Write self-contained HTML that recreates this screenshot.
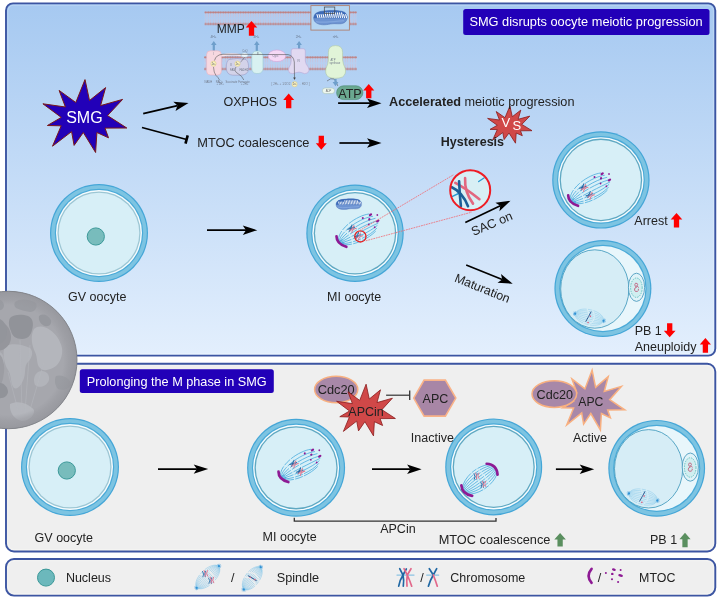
<!DOCTYPE html><html><head><meta charset="utf-8"><style>html,body{margin:0;padding:0;background:#fff;}svg{display:block;will-change:transform;}text{font-family:"Liberation Sans",sans-serif;}</style></head><body>
<svg width="721" height="600" viewBox="0 0 721 600">
<defs>
<linearGradient id="gtop" x1="0" y1="0" x2="0" y2="1">
<stop offset="0" stop-color="#a6c9f1"/><stop offset="1" stop-color="#e3effd"/>
</linearGradient>
<radialGradient id="gmoon" cx="0.45" cy="0.45" r="0.6">
<stop offset="0" stop-color="#b0b0b4"/><stop offset="0.8" stop-color="#a4a4a8"/><stop offset="1" stop-color="#959599"/>
</radialGradient>
<pattern id="memb" x="0" y="0" width="2.5" height="14.2" patternUnits="userSpaceOnUse">
<line x1="1.25" y1="2" x2="1.25" y2="6.3" stroke="#d8b8c8" stroke-width="0.5"/><line x1="1.25" y1="7.9" x2="1.25" y2="12.2" stroke="#d8b8c8" stroke-width="0.5"/>
<circle cx="1.25" cy="1.3" r="1.15" fill="#bf8080"/><circle cx="1.25" cy="12.9" r="1.15" fill="#bf8080"/>
</pattern>
<pattern id="memb2" x="0" y="0" width="2.5" height="14.3" patternUnits="userSpaceOnUse">
<line x1="1.25" y1="2" x2="1.25" y2="6.3" stroke="#d8b8c8" stroke-width="0.5"/><line x1="1.25" y1="8" x2="1.25" y2="12.3" stroke="#d8b8c8" stroke-width="0.5"/>
<circle cx="1.25" cy="1.3" r="1.15" fill="#bf8080"/><circle cx="1.25" cy="13" r="1.15" fill="#bf8080"/>
</pattern>
</defs>
<rect x="6" y="3.4" width="709.3" height="352.2" rx="7" fill="url(#gtop)" stroke="#3c55a2" stroke-width="1.9"/>
<rect x="6" y="363.8" width="709.3" height="187.7" rx="8" fill="#efefef" stroke="#3c55a2" stroke-width="1.9"/>
<rect x="6" y="559" width="709.3" height="36.6" rx="8" fill="#efefef" stroke="#3c55a2" stroke-width="1.9"/>
<rect x="7.9" y="5.3" width="705.5" height="348.4" rx="5.5" fill="none" stroke="#ffffff" stroke-width="0.9" opacity="0.25"/>
<rect x="7.9" y="365.7" width="705.5" height="183.9" rx="6.5" fill="none" stroke="#fafaf6" stroke-width="0.9" opacity="0.6"/>
<rect x="7.9" y="560.9" width="705.5" height="32.8" rx="6.5" fill="none" stroke="#fafaf6" stroke-width="0.9" opacity="0.6"/>
<rect x="463.2" y="9.1" width="246.3" height="26" rx="2.5" fill="#2200b8"/>
<text x="469.4" y="26.0" font-size="12.8" fill="#fff" font-weight="normal" text-anchor="start" >SMG disrupts oocyte meiotic progression</text>
<rect x="79.8" y="369.2" width="194" height="23.8" rx="2.5" fill="#2200b8"/>
<text x="86.8" y="386" font-size="12.7" fill="#fff" font-weight="normal" text-anchor="start" >Prolonging the M phase in SMG</text>
<polygon points="85.0,79.6 89.5,100.5 105.6,87.6 100.6,105.6 122.6,99.4 107.5,115.6 126.8,128.0 105.0,128.1 108.5,137.8 96.9,132.5 95.6,152.5 83.3,132.5 74.1,145.4 71.6,131.6 52.5,146.2 61.2,125.8 47.4,125.5 61.3,117.4 42.9,103.8 65.4,107.0 59.1,90.4 75.8,102.5" fill="#2200b8" stroke="#7a1818" stroke-width="1"/>
<text x="84.4" y="123.3" font-size="16" fill="#fff" font-weight="normal" text-anchor="middle" >SMG</text>
<line x1="143.2" y1="113.7" x2="177.5" y2="105.6" stroke="#000" stroke-width="1.7"/>
<path d="M188.5,103.0 L175.5,110.9 L177.5,105.6 L173.3,101.8 Z" fill="#000"/>
<line x1="142.0" y1="127.5" x2="186.6" y2="139.5" stroke="#000" stroke-width="1.7"/>
<line x1="185.5" y1="143.6" x2="187.7" y2="135.4" stroke="#000" stroke-width="2.6"/>
<text x="197.3" y="146.8" font-size="12.8" fill="#222" font-weight="normal" text-anchor="start" >MTOC coalescence</text>
<path d="M321.3,149.8 L326.8,143.3 L323.95,143.3 L323.95,135.8 L318.65000000000003,135.8 L318.65000000000003,143.3 L315.8,143.3 Z" fill="#ff0000"/>
<line x1="339.4" y1="143.0" x2="370.2" y2="143.0" stroke="#000" stroke-width="1.7"/>
<path d="M381.5,143.0 L367.0,147.7 L370.2,143.0 L367.0,138.3 Z" fill="#000"/>
<text x="223.5" y="105.6" font-size="12.5" fill="#222" font-weight="normal" text-anchor="start" >OXPHOS</text>
<path d="M288.7,93.5 L294.2,100.0 L291.34999999999997,100.0 L291.34999999999997,108.3 L286.05,108.3 L286.05,100.0 L283.2,100.0 Z" fill="#ff0000"/>
<polygon points="509.9,106.0 512.3,116.7 520.8,110.1 518.1,119.3 529.8,116.1 521.8,124.4 532.0,130.7 520.5,130.8 522.3,135.7 516.2,133.0 515.5,143.2 509.0,133.0 504.1,139.6 502.8,132.6 492.7,140.0 497.3,129.6 490.0,129.4 497.3,125.3 487.6,118.4 499.5,120.0 496.2,111.5 505.0,117.7" fill="#d04848" stroke="#8a1a1a" stroke-width="0.8"/>
<text x="501.5" y="126.7" font-size="13" fill="#fff" font-weight="normal" text-anchor="start" >V</text>
<text x="512.5" y="130.4" font-size="13" fill="#fff" font-weight="normal" text-anchor="start" >S</text>
<text x="389" y="105.8" font-size="12.7" fill="#222" font-weight="normal" text-anchor="start" ><tspan font-weight="bold">Accelerated</tspan> meiotic progression</text>
<line x1="338.1" y1="103.2" x2="370.2" y2="103.2" stroke="#000" stroke-width="1.7"/>
<path d="M381.5,103.2 L367.0,107.9 L370.2,103.2 L367.0,98.5 Z" fill="#000"/>
<text x="440.8" y="145.9" font-size="12.5" fill="#222" font-weight="bold" text-anchor="start" >Hysteresis</text>
<circle cx="99" cy="233" r="49.00" fill="#44a6d7"/>
<circle cx="99" cy="233" r="47.80" fill="#7dc4e2"/>
<circle cx="99" cy="233" r="44.20" fill="#4aaad8"/>
<circle cx="99" cy="233" r="43.00" fill="#f6fcfe"/>
<circle cx="99" cy="233" r="41.60" fill="#9cc6d4"/>
<circle cx="99" cy="233" r="40.30" fill="#d7eff7"/>
<circle cx="95.8" cy="236.5" r="8.6" fill="#78bcbc" stroke="#3a9898" stroke-width="1"/>
<text x="68" y="301.3" font-size="12.5" fill="#222" font-weight="normal" text-anchor="start" >GV oocyte</text>
<line x1="207.0" y1="230.2" x2="246.0" y2="230.2" stroke="#000" stroke-width="1.7"/>
<path d="M257.3,230.2 L242.8,234.9 L246.0,230.2 L242.8,225.5 Z" fill="#000"/>
<circle cx="355" cy="233.2" r="48.70" fill="#44a6d7"/>
<circle cx="355" cy="233.2" r="47.50" fill="#7dc4e2"/>
<circle cx="355" cy="233.2" r="43.90" fill="#4aaad8"/>
<circle cx="355" cy="233.2" r="42.70" fill="#f6fcfe"/>
<circle cx="355" cy="233.2" r="41.30" fill="#5fa8c2"/>
<circle cx="355" cy="233.2" r="40.00" fill="#d7eff7"/>
<text x="327.1" y="301.3" font-size="12.5" fill="#222" font-weight="normal" text-anchor="start" >MI oocyte</text>
<g transform="translate(335.5,198.3) scale(0.763,0.739)"><path d="M3,3.6 C7,0.3 27,-0.2 31.5,2.6 C35.2,5.2 35.2,10.6 31.2,13.2 C27.5,15.3 22.5,13.4 17.3,14.4 C12,15.6 6.2,15.6 2.9,13 C-0.2,10.4 0.2,6 3,3.6 Z" fill="#6d93d2" stroke="#4a6fb0" stroke-width="0.5"/><path d="M3,3.6 C7,0.3 27,-0.2 31.5,2.6 C33.6,4.1 34.5,6.5 34.5,8.6 L0.6,8.6 C0.8,6.8 1.6,4.9 3,3.6 Z" fill="#3d6bb8"/><path d="M4.00,5.0 l0.9,3.0 M6.05,5.0 l0.9,3.0 M8.10,5.0 l0.9,3.0 M10.15,5.0 l0.9,3.0 M12.20,3.2 l0.9,4.6 M14.25,3.2 l0.9,4.6 M16.30,3.2 l0.9,4.6 M18.35,3.2 l0.9,4.6 M20.40,3.2 l0.9,4.6 M22.45,3.2 l0.9,4.6 M24.50,3.2 l0.9,4.6 M26.55,3.2 l0.9,4.6 M28.60,3.2 l0.9,4.6 M30.65,5.0 l0.9,3.0 M32.70,5.0 l0.9,3.0" stroke="#ffffff" stroke-width="1.1" fill="none" stroke-linecap="round"/><path d="M3,12 C10,13.6 22,11.8 31,11" stroke="#82a6de" stroke-width="1.2" fill="none"/></g>
<g transform="translate(339.20,243.30) rotate(-32) scale(1.0)">
<path d="M0,0 C2,-12 28,-15 41,-9 M0,0 C4,-9 30,-11 43,-5 M0,0 C6,-6 30,-7 44,-2 M0,0 C8,-3 30,-3 44,1 M0,0 C8,0 30,2 44,3.5 M0,0 C8,3 30,7 42,5 M0,0 C6,6 28,11 40,7 M0,0 C4,8 24,12.5 37.5,9" stroke="#45aadc" stroke-width="0.7" fill="none" stroke-dasharray="13 1.4 8 1.2 40"/>
<path d="M0.5,-1 L5,-1.5 M0.5,1 L5,2" stroke="#38a0dc" stroke-width="1.2" opacity="0.6"/>
<path d="M1.4,-7.3 Q-2.6,-1 4.2,6.7" stroke="#8e1a94" stroke-width="2.7" fill="none" stroke-linecap="round"/>
<ellipse cx="41.7" cy="-7.7" rx="1.8" ry="1.2" fill="#8e1a94"/>
<ellipse cx="47.3" cy="-3.8" rx="0.9" ry="0.9" fill="#8e1a94"/>
<ellipse cx="33.4" cy="-8.9" rx="1.0" ry="1.0" fill="#8e1a94"/>
<ellipse cx="38.3" cy="-4.4" rx="1.2" ry="1.1" fill="#8e1a94"/>
<ellipse cx="44.5" cy="1.5" rx="1.9" ry="1.1" fill="#8e1a94"/>
<ellipse cx="35.1" cy="-0.2" rx="0.9" ry="0.9" fill="#8e1a94"/>
<ellipse cx="38.6" cy="5.2" rx="0.9" ry="0.9" fill="#8e1a94"/>
<g transform="translate(18.30,-5.70) rotate(80) scale(1.1)" fill="none" stroke-linecap="round"><path d="M-2.4,-2.6 Q-0.4,0 -2.0,2.9 M0.6,-2.9 Q-1.2,0 0.2,2.8" stroke="#2a68a2" stroke-width="0.95"/><path d="M-0.8,-3.4 Q1.0,-0.6 0.2,2.4 M2.4,-3.4 Q0.4,-0.6 2.6,2.2" stroke="#e07a92" stroke-width="0.95"/></g>
<g transform="translate(19.80,4.20) rotate(80) scale(1.1)" fill="none" stroke-linecap="round"><path d="M-2.4,-2.6 Q-0.4,0 -2.0,2.9 M0.6,-2.9 Q-1.2,0 0.2,2.8" stroke="#2a68a2" stroke-width="0.95"/><path d="M-0.8,-3.4 Q1.0,-0.6 0.2,2.4 M2.4,-3.4 Q0.4,-0.6 2.6,2.2" stroke="#e07a92" stroke-width="0.95"/></g>
</g>
<circle cx="360.4" cy="236.4" r="5.6" fill="none" stroke="#e82020" stroke-width="1.3"/>
<line x1="359.6" y1="230.6" x2="453.8" y2="174.6" stroke="#f06a72" stroke-width="0.8" stroke-dasharray="1.8 0.8"/>
<line x1="365.8" y1="240.8" x2="471.6" y2="212.2" stroke="#f06a72" stroke-width="0.8" stroke-dasharray="1.8 0.8"/>
<circle cx="600.9" cy="179.9" r="48.70" fill="#44a6d7"/>
<circle cx="600.9" cy="179.9" r="47.50" fill="#7dc4e2"/>
<circle cx="600.9" cy="179.9" r="43.90" fill="#4aaad8"/>
<circle cx="600.9" cy="179.9" r="42.70" fill="#f6fcfe"/>
<circle cx="600.9" cy="179.9" r="41.30" fill="#5fa8c2"/>
<circle cx="600.9" cy="179.9" r="40.00" fill="#d7eff7"/>
<text x="634.3" y="225" font-size="12.5" fill="#222" font-weight="normal" text-anchor="start" >Arrest</text>
<g transform="translate(570.90,202.30) rotate(-32) scale(1.0)">
<path d="M0,0 C2,-12 28,-15 41,-9 M0,0 C4,-9 30,-11 43,-5 M0,0 C6,-6 30,-7 44,-2 M0,0 C8,-3 30,-3 44,1 M0,0 C8,0 30,2 44,3.5 M0,0 C8,3 30,7 42,5 M0,0 C6,6 28,11 40,7 M0,0 C4,8 24,12.5 37.5,9" stroke="#45aadc" stroke-width="0.7" fill="none" stroke-dasharray="13 1.4 8 1.2 40"/>
<path d="M0.5,-1 L5,-1.5 M0.5,1 L5,2" stroke="#38a0dc" stroke-width="1.2" opacity="0.6"/>
<path d="M1.4,-7.3 Q-2.6,-1 4.2,6.7" stroke="#8e1a94" stroke-width="2.7" fill="none" stroke-linecap="round"/>
<ellipse cx="41.7" cy="-7.7" rx="1.8" ry="1.2" fill="#8e1a94"/>
<ellipse cx="47.3" cy="-3.8" rx="0.9" ry="0.9" fill="#8e1a94"/>
<ellipse cx="33.4" cy="-8.9" rx="1.0" ry="1.0" fill="#8e1a94"/>
<ellipse cx="38.3" cy="-4.4" rx="1.2" ry="1.1" fill="#8e1a94"/>
<ellipse cx="44.5" cy="1.5" rx="1.9" ry="1.1" fill="#8e1a94"/>
<ellipse cx="35.1" cy="-0.2" rx="0.9" ry="0.9" fill="#8e1a94"/>
<ellipse cx="38.6" cy="5.2" rx="0.9" ry="0.9" fill="#8e1a94"/>
<g transform="translate(18.30,-5.70) rotate(80) scale(1.1)" fill="none" stroke-linecap="round"><path d="M-2.4,-2.6 Q-0.4,0 -2.0,2.9 M0.6,-2.9 Q-1.2,0 0.2,2.8" stroke="#2a68a2" stroke-width="0.95"/><path d="M-0.8,-3.4 Q1.0,-0.6 0.2,2.4 M2.4,-3.4 Q0.4,-0.6 2.6,2.2" stroke="#e07a92" stroke-width="0.95"/></g>
<g transform="translate(19.80,4.20) rotate(80) scale(1.1)" fill="none" stroke-linecap="round"><path d="M-2.4,-2.6 Q-0.4,0 -2.0,2.9 M0.6,-2.9 Q-1.2,0 0.2,2.8" stroke="#2a68a2" stroke-width="0.95"/><path d="M-0.8,-3.4 Q1.0,-0.6 0.2,2.4 M2.4,-3.4 Q0.4,-0.6 2.6,2.2" stroke="#e07a92" stroke-width="0.95"/></g>
</g>
<path d="M676.5,213.1 L682.3000000000001,219.6 L679.1500000000001,219.6 L679.1500000000001,227.4 L673.85,227.4 L673.85,219.6 L670.7,219.6 Z" fill="#ff0000"/>
<circle cx="602.9" cy="288.5" r="48.50" fill="#44a6d7"/>
<circle cx="602.9" cy="288.5" r="47.30" fill="#7dc4e2"/>
<circle cx="602.9" cy="288.5" r="43.70" fill="#4aaad8"/>
<circle cx="602.9" cy="288.5" r="42.50" fill="#e8f6fb"/>
<ellipse cx="594.8" cy="289.0" rx="34.1" ry="39.2" fill="#d6edf6" stroke="#4a9ec0" stroke-width="0.9"/>
<ellipse cx="636.5" cy="287.3" rx="8.1" ry="14.1" fill="#e0f3f8" stroke="#4f9dbf" stroke-width="0.9"/>
<ellipse cx="636.4" cy="287.7" rx="5.8" ry="9.7" fill="#d0eef0" stroke="#50b8b8" stroke-width="0.8" stroke-dasharray="1.5 1"/>
<path d="M637.1999999999999,283.5 q-2.2,-1.2 -2.4,1.2 q-0.1,2 2,2.3 q-2.6,0.6 -2.3,3 q0.4,2.1 2.8,1.4 q1.8,-0.8 1,-2.6 M637.1999999999999,283.5 q1.2,1.2 -0.5,2.6 q1.6,0.2 1.9,1.6" fill="none" stroke="#c0607e" stroke-width="0.9"/>
<g transform="translate(575.30,313.70) rotate(14) scale(1.0)">
<path d="M0,-0.00 C0.9,-10.00 28.1,-10.00 29,-0.00 M0,-0.00 C0.9,-7.50 28.1,-7.50 29,-0.00 M0,-0.00 C0.9,-5.00 28.1,-5.00 29,-0.00 M0,-0.00 C0.9,-2.50 28.1,-2.50 29,-0.00 M0,0.00 C0.9,0.00 28.1,0.00 29,0.00 M0,0.00 C0.9,2.50 28.1,2.50 29,0.00 M0,0.00 C0.9,5.00 28.1,5.00 29,0.00 M0,0.00 C0.9,7.50 28.1,7.50 29,0.00 M0,0.00 C0.9,10.00 28.1,10.00 29,0.00" stroke="#8ccbea" stroke-width="0.5" fill="none" stroke-dasharray="13.1 1.3 4.3 1.3 29.0" opacity="1.0"/>
<path d="M0,0 l-0.62,-2.32 M0,0 l-1.84,-1.54 M0,0 l-2.40,0.00 M0,0 l-1.84,1.54 M0,0 l-0.62,2.32" stroke="#3a98d8" stroke-width="0.55" fill="none"/>
<circle cx="0" cy="0" r="1.0" fill="#2f90d4"/>
<path d="M29,0 l0.62,-2.32 M29,0 l1.84,-1.54 M29,0 l2.40,0.00 M29,0 l1.84,1.54 M29,0 l0.62,2.32" stroke="#3a98d8" stroke-width="0.55" fill="none"/>
<circle cx="29" cy="0" r="1.0" fill="#2f90d4"/>
<path d="M14.9,-5.9 L13.6,-0.5 L12,5.3" stroke="#2a5a90" stroke-width="0.9" fill="none"/><circle cx="15.2" cy="-1.2" r="0.8" fill="#e0607e"/><circle cx="14.5" cy="5.5" r="0.8" fill="#e0607e"/>
</g>
<text x="634.7" y="334.5" font-size="12.5" fill="#222" font-weight="normal" text-anchor="start" >PB 1</text>
<path d="M669.6999999999999,337.3 L675.5999999999999,330.8 L672.3499999999999,330.8 L672.3499999999999,323.3 L667.05,323.3 L667.05,330.8 L663.8,330.8 Z" fill="#ff0000"/>
<text x="634.7" y="350.6" font-size="12.5" fill="#222" font-weight="normal" text-anchor="start" >Aneuploidy</text>
<path d="M705.4,338 L711.0,344.5 L708.05,344.5 L708.05,352.7 L702.75,352.7 L702.75,344.5 L699.8,344.5 Z" fill="#ff0000"/>
<line x1="465.3" y1="222.4" x2="500.3" y2="205.7" stroke="#000" stroke-width="1.7"/>
<path d="M510.5,200.8 L499.4,211.3 L500.3,205.7 L495.4,202.8 Z" fill="#000"/>
<text x="473.6" y="236" font-size="12.6" fill="#222" font-weight="normal" text-anchor="start" transform="rotate(-23 473.6 236)">SAC on</text>
<line x1="466.2" y1="265.0" x2="502.2" y2="279.5" stroke="#000" stroke-width="1.7"/>
<path d="M512.7,283.7 L497.5,282.7 L502.2,279.5 L501.0,273.9 Z" fill="#000"/>
<text x="453.7" y="281.2" font-size="12.4" fill="#222" font-weight="normal" text-anchor="start" transform="rotate(22 453.7 281.2)">Maturation</text>
<circle cx="470.2" cy="190.2" r="20" fill="#d8eff5"/>
<g stroke-linecap="round" fill="none"><path d="M484,178 L478.7,181.5 M452.5,196.4 L458.5,193.5" stroke="#2a9ad2" stroke-width="1.4"/><path d="M465.1,178 Q464.3,192 473,203.6" stroke="#e2677f" stroke-width="2.6"/><path d="M455.3,182.8 Q467,189 479.4,199.2" stroke="#e2677f" stroke-width="2.6"/><path d="M459.1,181.2 Q459.6,194 460.9,206.2" stroke="#1c5f96" stroke-width="2.6"/><path d="M451.8,187.2 Q462.5,192 468,206.2" stroke="#1c5f96" stroke-width="2.6"/></g>
<circle cx="470.2" cy="190.2" r="20" fill="none" stroke="#ee1c24" stroke-width="2"/>
<circle cx="70" cy="467" r="49.00" fill="#44a6d7"/>
<circle cx="70" cy="467" r="47.80" fill="#7dc4e2"/>
<circle cx="70" cy="467" r="44.20" fill="#4aaad8"/>
<circle cx="70" cy="467" r="43.00" fill="#f6fcfe"/>
<circle cx="70" cy="467" r="41.60" fill="#9cc6d4"/>
<circle cx="70" cy="467" r="40.30" fill="#d7eff7"/>
<circle cx="66.8" cy="470.5" r="8.6" fill="#78bcbc" stroke="#3a9898" stroke-width="1"/>
<text x="34.6" y="542.1" font-size="12.5" fill="#222" font-weight="normal" text-anchor="start" >GV oocyte</text>
<line x1="158.0" y1="469.1" x2="196.9" y2="469.1" stroke="#000" stroke-width="1.7"/>
<path d="M208.2,469.1 L193.7,473.8 L196.9,469.1 L193.7,464.4 Z" fill="#000"/>
<circle cx="296.1" cy="467.8" r="49.00" fill="#44a6d7"/>
<circle cx="296.1" cy="467.8" r="47.80" fill="#7dc4e2"/>
<circle cx="296.1" cy="467.8" r="44.20" fill="#4aaad8"/>
<circle cx="296.1" cy="467.8" r="43.00" fill="#f6fcfe"/>
<circle cx="296.1" cy="467.8" r="41.60" fill="#5fa8c2"/>
<circle cx="296.1" cy="467.8" r="40.30" fill="#d7eff7"/>
<text x="262.6" y="541.3" font-size="12.5" fill="#222" font-weight="normal" text-anchor="start" >MI oocyte</text>
<g transform="translate(281.20,478.60) rotate(-32) scale(1.0)">
<path d="M0,0 C2,-12 28,-15 41,-9 M0,0 C4,-9 30,-11 43,-5 M0,0 C6,-6 30,-7 44,-2 M0,0 C8,-3 30,-3 44,1 M0,0 C8,0 30,2 44,3.5 M0,0 C8,3 30,7 42,5 M0,0 C6,6 28,11 40,7 M0,0 C4,8 24,12.5 37.5,9" stroke="#45aadc" stroke-width="0.7" fill="none" stroke-dasharray="13 1.4 8 1.2 40"/>
<path d="M0.5,-1 L5,-1.5 M0.5,1 L5,2" stroke="#38a0dc" stroke-width="1.2" opacity="0.6"/>
<path d="M1.4,-7.3 Q-2.6,-1 4.2,6.7" stroke="#8e1a94" stroke-width="2.7" fill="none" stroke-linecap="round"/>
<ellipse cx="41.7" cy="-7.7" rx="1.8" ry="1.2" fill="#8e1a94"/>
<ellipse cx="47.3" cy="-3.8" rx="0.9" ry="0.9" fill="#8e1a94"/>
<ellipse cx="33.4" cy="-8.9" rx="1.0" ry="1.0" fill="#8e1a94"/>
<ellipse cx="38.3" cy="-4.4" rx="1.2" ry="1.1" fill="#8e1a94"/>
<ellipse cx="44.5" cy="1.5" rx="1.9" ry="1.1" fill="#8e1a94"/>
<ellipse cx="35.1" cy="-0.2" rx="0.9" ry="0.9" fill="#8e1a94"/>
<ellipse cx="38.6" cy="5.2" rx="0.9" ry="0.9" fill="#8e1a94"/>
<g transform="translate(18.30,-5.70) rotate(80) scale(1.1)" fill="none" stroke-linecap="round"><path d="M-2.4,-2.6 Q-0.4,0 -2.0,2.9 M0.6,-2.9 Q-1.2,0 0.2,2.8" stroke="#2a68a2" stroke-width="0.95"/><path d="M-0.8,-3.4 Q1.0,-0.6 0.2,2.4 M2.4,-3.4 Q0.4,-0.6 2.6,2.2" stroke="#e07a92" stroke-width="0.95"/></g>
<g transform="translate(19.80,4.20) rotate(80) scale(1.1)" fill="none" stroke-linecap="round"><path d="M-2.4,-2.6 Q-0.4,0 -2.0,2.9 M0.6,-2.9 Q-1.2,0 0.2,2.8" stroke="#2a68a2" stroke-width="0.95"/><path d="M-0.8,-3.4 Q1.0,-0.6 0.2,2.4 M2.4,-3.4 Q0.4,-0.6 2.6,2.2" stroke="#e07a92" stroke-width="0.95"/></g>
</g>
<line x1="372.0" y1="469.2" x2="410.3" y2="469.2" stroke="#000" stroke-width="1.7"/>
<path d="M421.6,469.2 L407.1,473.9 L410.3,469.2 L407.1,464.5 Z" fill="#000"/>
<circle cx="493.7" cy="466.9" r="48.50" fill="#44a6d7"/>
<circle cx="493.7" cy="466.9" r="47.30" fill="#7dc4e2"/>
<circle cx="493.7" cy="466.9" r="43.70" fill="#4aaad8"/>
<circle cx="493.7" cy="466.9" r="42.50" fill="#f6fcfe"/>
<circle cx="493.7" cy="466.9" r="41.10" fill="#5fa8c2"/>
<circle cx="493.7" cy="466.9" r="39.80" fill="#d7eff7"/>
<line x1="555.9" y1="469.2" x2="582.9" y2="469.2" stroke="#000" stroke-width="1.7"/>
<path d="M594.2,469.2 L579.7,473.9 L582.9,469.2 L579.7,464.5 Z" fill="#000"/>
<g transform="translate(464.50,491.00) rotate(-37) scale(1.0)">
<path d="M0,-3.75 C9.6,-12.50 28.7,-12.50 38.2,-4.50 M0,-2.81 C9.6,-9.38 28.7,-9.38 38.2,-3.38 M0,-1.88 C9.6,-6.25 28.7,-6.25 38.2,-2.25 M0,-0.94 C9.6,-3.12 28.7,-3.12 38.2,-1.12 M0,0.00 C9.6,0.00 28.7,0.00 38.2,0.00 M0,0.94 C9.6,3.12 28.7,3.12 38.2,1.12 M0,1.88 C9.6,6.25 28.7,6.25 38.2,2.25 M0,2.81 C9.6,9.38 28.7,9.38 38.2,3.38 M0,3.75 C9.6,12.50 28.7,12.50 38.2,4.50" stroke="#45aadc" stroke-width="0.7" fill="none" stroke-dasharray="17.2 1.3 5.7 1.3 38.2" opacity="1.0"/>
<path d="M0.9,-6.4 Q-3.8,1 3.2,8.5" stroke="#8e1a94" stroke-width="2.7" fill="none" stroke-linecap="round"/>
<path d="M34.1,-8.4 Q41.800000000000004,-2 36.2,6.9" stroke="#8e1a94" stroke-width="2.7" fill="none" stroke-linecap="round"/>
<g transform="translate(18.30,-4.50) rotate(37) scale(1.0)" fill="none" stroke-linecap="round"><path d="M-2.4,-2.6 Q-0.4,0 -2.0,2.9 M0.6,-2.9 Q-1.2,0 0.2,2.8" stroke="#2a68a2" stroke-width="0.95"/><path d="M-0.8,-3.4 Q1.0,-0.6 0.2,2.4 M2.4,-3.4 Q0.4,-0.6 2.6,2.2" stroke="#e07a92" stroke-width="0.95"/></g><g transform="translate(18.80,6.10) rotate(37) scale(1.0)" fill="none" stroke-linecap="round"><path d="M-2.4,-2.6 Q-0.4,0 -2.0,2.9 M0.6,-2.9 Q-1.2,0 0.2,2.8" stroke="#2a68a2" stroke-width="0.95"/><path d="M-0.8,-3.4 Q1.0,-0.6 0.2,2.4 M2.4,-3.4 Q0.4,-0.6 2.6,2.2" stroke="#e07a92" stroke-width="0.95"/></g>
</g>
<circle cx="656.7" cy="468.3" r="48.40" fill="#44a6d7"/>
<circle cx="656.7" cy="468.3" r="47.20" fill="#7dc4e2"/>
<circle cx="656.7" cy="468.3" r="43.60" fill="#4aaad8"/>
<circle cx="656.7" cy="468.3" r="42.40" fill="#e8f6fb"/>
<ellipse cx="648.6" cy="468.8" rx="34.1" ry="39.2" fill="#d6edf6" stroke="#4a9ec0" stroke-width="0.9"/>
<ellipse cx="690.3000000000001" cy="467.1" rx="8.1" ry="14.1" fill="#e0f3f8" stroke="#4f9dbf" stroke-width="0.9"/>
<ellipse cx="690.2" cy="467.5" rx="5.8" ry="9.7" fill="#d0eef0" stroke="#50b8b8" stroke-width="0.8" stroke-dasharray="1.5 1"/>
<path d="M691.0,463.3 q-2.2,-1.2 -2.4,1.2 q-0.1,2 2,2.3 q-2.6,0.6 -2.3,3 q0.4,2.1 2.8,1.4 q1.8,-0.8 1,-2.6 M691.0,463.3 q1.2,1.2 -0.5,2.6 q1.6,0.2 1.9,1.6" fill="none" stroke="#c0607e" stroke-width="0.9"/>
<g transform="translate(629.10,493.50) rotate(14) scale(1.0)">
<path d="M0,-0.00 C0.9,-10.00 28.1,-10.00 29,-0.00 M0,-0.00 C0.9,-7.50 28.1,-7.50 29,-0.00 M0,-0.00 C0.9,-5.00 28.1,-5.00 29,-0.00 M0,-0.00 C0.9,-2.50 28.1,-2.50 29,-0.00 M0,0.00 C0.9,0.00 28.1,0.00 29,0.00 M0,0.00 C0.9,2.50 28.1,2.50 29,0.00 M0,0.00 C0.9,5.00 28.1,5.00 29,0.00 M0,0.00 C0.9,7.50 28.1,7.50 29,0.00 M0,0.00 C0.9,10.00 28.1,10.00 29,0.00" stroke="#8ccbea" stroke-width="0.5" fill="none" stroke-dasharray="13.1 1.3 4.3 1.3 29.0" opacity="1.0"/>
<path d="M0,0 l-0.62,-2.32 M0,0 l-1.84,-1.54 M0,0 l-2.40,0.00 M0,0 l-1.84,1.54 M0,0 l-0.62,2.32" stroke="#3a98d8" stroke-width="0.55" fill="none"/>
<circle cx="0" cy="0" r="1.0" fill="#2f90d4"/>
<path d="M29,0 l0.62,-2.32 M29,0 l1.84,-1.54 M29,0 l2.40,0.00 M29,0 l1.84,1.54 M29,0 l0.62,2.32" stroke="#3a98d8" stroke-width="0.55" fill="none"/>
<circle cx="29" cy="0" r="1.0" fill="#2f90d4"/>
<path d="M14.9,-5.9 L13.6,-0.5 L12,5.3" stroke="#2a5a90" stroke-width="0.9" fill="none"/><circle cx="15.2" cy="-1.2" r="0.8" fill="#e0607e"/><circle cx="14.5" cy="5.5" r="0.8" fill="#e0607e"/>
</g>
<text x="438.7" y="544.4" font-size="12.75" fill="#222" font-weight="normal" text-anchor="start" >MTOC coalescence</text>
<path d="M560.0999999999999,532.9 L565.9,539.4 L562.75,539.4 L562.75,546.5 L557.4499999999999,546.5 L557.4499999999999,539.4 L554.3,539.4 Z" fill="#5a8f5f"/>
<text x="650" y="544.4" font-size="12.5" fill="#222" font-weight="normal" text-anchor="start" >PB 1</text>
<path d="M685.0,532.7 L690.6,539.2 L687.65,539.2 L687.65,547.3000000000001 L682.35,547.3000000000001 L682.35,539.2 L679.4,539.2 Z" fill="#5a8f5f"/>
<path d="M294.3,517.8 L294.3,521.2 L496,521.2 L496,518" fill="none" stroke="#333" stroke-width="1.3"/>
<text x="380.2" y="533" font-size="12.5" fill="#222" font-weight="normal" text-anchor="start" >APCin</text>
<ellipse cx="336.2" cy="389.5" rx="21.6" ry="13.2" fill="#a888a8" stroke="#f8b080" stroke-width="1.5"/>
<text x="317.7" y="393.8" font-size="12.8" fill="#222" font-weight="normal" text-anchor="start" >Cdc20</text>
<polygon points="366.1,384.2 369.3,399.0 380.5,389.8 377.0,402.6 392.4,398.2 381.9,409.7 395.4,418.5 380.1,418.6 382.6,425.5 374.4,421.7 373.5,435.9 364.9,421.7 358.5,430.9 356.7,421.1 343.4,431.4 349.4,417.0 339.8,416.7 349.5,411.0 336.6,401.3 352.4,403.6 348.0,391.8 359.7,400.4" fill="#d04848" stroke="#8a1a1a" stroke-width="0.8"/>
<text x="348.3" y="416.4" font-size="12.5" fill="#222" font-weight="normal" text-anchor="start" >APCin</text>
<line x1="386.1" y1="395.2" x2="409.7" y2="395.2" stroke="#333" stroke-width="1.2"/>
<line x1="409.7" y1="399.9" x2="409.7" y2="390.5" stroke="#333" stroke-width="1.3"/>
<polygon points="413.7,398.1 424.1,380.1 445.4,380.1 455.8,398.1 445.4,416.1 424.1,416.1" fill="#a886a6" stroke="#f9b288" stroke-width="1.6"/>
<text x="422.6" y="403.2" font-size="12.5" fill="#222" font-weight="normal" text-anchor="start" >APC</text>
<text x="410.8" y="441.7" font-size="12.5" fill="#222" font-weight="normal" text-anchor="start" >Inactive</text>
<polygon points="592.1,370.2 595.6,387.3 608.2,376.7 604.3,391.5 621.4,386.4 609.7,399.7 624.7,409.8 607.7,409.9 610.4,417.9 601.4,413.5 600.4,429.9 590.8,413.5 583.6,424.1 581.7,412.8 566.8,424.8 573.6,408.0 562.8,407.8 573.6,401.1 559.3,390.0 576.8,392.6 571.9,379.0 584.9,388.9" fill="#a888a8" stroke="#f8b080" stroke-width="1.5"/>
<ellipse cx="554.3" cy="394.1" rx="22.3" ry="13.3" fill="#a888a8" stroke="#f8b080" stroke-width="1.5"/>
<text x="536.6" y="398.8" font-size="12.6" fill="#222" font-weight="normal" text-anchor="start" >Cdc20</text>
<text x="578.3" y="405.8" font-size="12.2" fill="#222" font-weight="normal" text-anchor="start" >APC</text>
<text x="573" y="442" font-size="12.5" fill="#222" font-weight="normal" text-anchor="start" >Active</text>
<circle cx="46" cy="577.6" r="8.5" fill="#6cb8bc" stroke="#3a9898" stroke-width="1"/>
<text x="65.9" y="581.8" font-size="12.5" fill="#222" font-weight="normal" text-anchor="start" >Nucleus</text>
<g transform="translate(196.70,587.80) rotate(-44.3) scale(1.0)">
<path d="M0,-0.00 C2.5,-10.00 28.5,-10.00 31,-0.00 M0,-0.00 C2.5,-8.00 28.5,-8.00 31,-0.00 M0,-0.00 C2.5,-6.00 28.5,-6.00 31,-0.00 M0,-0.00 C2.5,-4.00 28.5,-4.00 31,-0.00 M0,-0.00 C2.5,-2.00 28.5,-2.00 31,-0.00 M0,0.00 C2.5,0.00 28.5,0.00 31,0.00 M0,0.00 C2.5,2.00 28.5,2.00 31,0.00 M0,0.00 C2.5,4.00 28.5,4.00 31,0.00 M0,0.00 C2.5,6.00 28.5,6.00 31,0.00 M0,0.00 C2.5,8.00 28.5,8.00 31,0.00 M0,0.00 C2.5,10.00 28.5,10.00 31,0.00" stroke="#7cc2e8" stroke-width="0.5" fill="none" stroke-dasharray="14.0 1.3 4.6 1.3 31.0" opacity="1.0"/>
<path d="M0,0 l-0.62,-2.32 M0,0 l-1.84,-1.54 M0,0 l-2.40,0.00 M0,0 l-1.84,1.54 M0,0 l-0.62,2.32" stroke="#3a98d8" stroke-width="0.55" fill="none"/>
<circle cx="0" cy="0" r="1.0" fill="#2f90d4"/>
<path d="M31,0 l0.62,-2.32 M31,0 l1.84,-1.54 M31,0 l2.40,0.00 M31,0 l1.84,1.54 M31,0 l0.62,2.32" stroke="#3a98d8" stroke-width="0.55" fill="none"/>
<circle cx="31" cy="0" r="1.0" fill="#2f90d4"/>
<g transform="translate(15.60,-4.10) rotate(44.3) scale(1.0)" fill="none" stroke-linecap="round"><path d="M-2.4,-2.6 Q-0.4,0 -2.0,2.9 M0.6,-2.9 Q-1.2,0 0.2,2.8" stroke="#3a7ab0" stroke-width="0.95"/><path d="M-0.8,-3.4 Q1.0,-0.6 0.2,2.4 M2.4,-3.4 Q0.4,-0.6 2.6,2.2" stroke="#e0708e" stroke-width="0.95"/></g><g transform="translate(15.30,4.90) rotate(44.3) scale(1.0)" fill="none" stroke-linecap="round"><path d="M-2.4,-2.6 Q-0.4,0 -2.0,2.9 M0.6,-2.9 Q-1.2,0 0.2,2.8" stroke="#3a7ab0" stroke-width="0.95"/><path d="M-0.8,-3.4 Q1.0,-0.6 0.2,2.4 M2.4,-3.4 Q0.4,-0.6 2.6,2.2" stroke="#e0708e" stroke-width="0.95"/></g>
</g>
<g transform="translate(243.90,589.40) rotate(-53) scale(1.0)">
<path d="M0,-0.00 C2.2,-9.50 25.6,-9.50 27.8,-0.00 M0,-0.00 C2.2,-7.60 25.6,-7.60 27.8,-0.00 M0,-0.00 C2.2,-5.70 25.6,-5.70 27.8,-0.00 M0,-0.00 C2.2,-3.80 25.6,-3.80 27.8,-0.00 M0,-0.00 C2.2,-1.90 25.6,-1.90 27.8,-0.00 M0,0.00 C2.2,0.00 25.6,0.00 27.8,0.00 M0,0.00 C2.2,1.90 25.6,1.90 27.8,0.00 M0,0.00 C2.2,3.80 25.6,3.80 27.8,0.00 M0,0.00 C2.2,5.70 25.6,5.70 27.8,0.00 M0,0.00 C2.2,7.60 25.6,7.60 27.8,0.00 M0,0.00 C2.2,9.50 25.6,9.50 27.8,0.00" stroke="#7cc2e8" stroke-width="0.5" fill="none" stroke-dasharray="12.5 1.3 4.2 1.3 27.8" opacity="1.0"/>
<path d="M0,0 l-0.62,-2.32 M0,0 l-1.84,-1.54 M0,0 l-2.40,0.00 M0,0 l-1.84,1.54 M0,0 l-0.62,2.32" stroke="#3a98d8" stroke-width="0.55" fill="none"/>
<circle cx="0" cy="0" r="1.0" fill="#2f90d4"/>
<path d="M27.8,0 l0.62,-2.32 M27.8,0 l1.84,-1.54 M27.8,0 l2.40,0.00 M27.8,0 l1.84,1.54 M27.8,0 l0.62,2.32" stroke="#3a98d8" stroke-width="0.55" fill="none"/>
<circle cx="27.8" cy="0" r="1.0" fill="#2f90d4"/>
<path d="M13.5,-5 L14.5,5" stroke="#2a5a90" stroke-width="1" fill="none"/><circle cx="13.4" cy="-2.2" r="0.8" fill="#e0708e"/><circle cx="14.6" cy="3" r="0.8" fill="#e0708e"/>
</g>
<g stroke-linecap="round" fill="none" stroke-width="1.7"><path d="M397,575.1 H414 M426.7,575.1 H438.7" stroke="#8cc4e4" stroke-width="1.3"/><path d="M399.7,568.7 L403,575 Q404.2,580.5 403.3,586.2 M406.3,569 L403,575 Q399.8,580 398.7,586.2" stroke="#2068a4"/><path d="M404,568.7 L407.3,575 Q409.8,580.5 411.7,586.2 M411,568.7 L407.3,575 Q406.4,580.5 407,586.2" stroke="#e2688a"/><path d="M429.3,568.7 L433.3,575 M436.7,568.7 L433.3,575 Q430,580.5 428.4,586.2" stroke="#2068a4"/><path d="M433.3,575 Q435.5,580.5 437.3,586.2" stroke="#e2688a"/></g>
<path d="M591.6,568.8 Q585.6,575.8 591.6,582.8" stroke="#8e1a94" stroke-width="2.6" fill="none" stroke-linecap="round"/>
<ellipse cx="605.9" cy="573" rx="1.0" ry="1.0" transform="rotate(0 605.9 573)" fill="#8e1a94"/>
<ellipse cx="613.9" cy="569.6" rx="2.0" ry="1.3" transform="rotate(20 613.9 569.6)" fill="#8e1a94"/>
<ellipse cx="620.6" cy="569.9" rx="1.0" ry="1.0" transform="rotate(0 620.6 569.9)" fill="#8e1a94"/>
<ellipse cx="612.3" cy="573.9" rx="1.3" ry="1.2" transform="rotate(0 612.3 573.9)" fill="#8e1a94"/>
<ellipse cx="620.6" cy="575.5" rx="2.4" ry="1.3" transform="rotate(12 620.6 575.5)" fill="#8e1a94"/>
<ellipse cx="612" cy="579.2" rx="1.05" ry="1.0" transform="rotate(0 612 579.2)" fill="#8e1a94"/>
<ellipse cx="618.1" cy="581.9" rx="1.05" ry="1.0" transform="rotate(0 618.1 581.9)" fill="#8e1a94"/>
<text x="231" y="581.8" font-size="12.5" fill="#222" font-weight="normal" text-anchor="start" >/</text>
<text x="276.7" y="581.8" font-size="12.7" fill="#222" font-weight="normal" text-anchor="start" >Spindle</text>
<text x="420.2" y="581.8" font-size="12.5" fill="#222" font-weight="normal" text-anchor="start" >/</text>
<text x="450.3" y="581.8" font-size="12.5" fill="#222" font-weight="normal" text-anchor="start" >Chromosome</text>
<text x="597.8" y="581.6" font-size="12.5" fill="#222" font-weight="normal" text-anchor="start" >/</text>
<text x="639.1" y="581.6" font-size="12.4" fill="#222" font-weight="normal" text-anchor="start" >MTOC</text>
<defs><clipPath id="mc"><circle cx="8.3" cy="360" r="68.5"/></clipPath><radialGradient id="rim" cx="8.3" cy="360" r="68.7" gradientUnits="userSpaceOnUse"><stop offset="0.8" stop-color="#97989e" stop-opacity="0"/><stop offset="0.88" stop-color="#97989e" stop-opacity="0.5"/><stop offset="1" stop-color="#93949a" stop-opacity="0.8"/></radialGradient></defs>
<circle cx="8.3" cy="360" r="68.7" fill="#a6a7ad"/>
<g clip-path="url(#mc)"><path d="M5,346 C12,343 22,344 30,348 C34,352 32,358 28,362 C24,366 26,372 24,378 C22,384 18,390 14,388 C10,384 12,376 8,370 C4,364 2,352 5,346 Z" fill="#b2b4ba"/><path d="M34,329 C38,325 45,326 50,330 C56,334 60,340 62,348 C63,356 60,362 56,366 C50,370 44,372 40,368 C36,364 38,358 35,352 C32,346 30,336 34,329 Z" fill="#b4b6bc"/><path d="M38,372 C44,369 50,373 49,380 C47,386 40,389 35,385 C33,380 34,375 38,372 Z" fill="#b2b4ba"/><path d="M10,404 C18,400 28,403 34,410 C35,416 28,421 22,421 C15,420 9,413 10,404 Z" fill="#b4b6bc"/><path d="M-4,352 C0,350 4,354 4,360 C4,368 2,374 -4,374 Z" fill="#afb1b7"/><path d="M-4,322 C4,320 11,328 11,337 C11,346 4,351 -4,351 Z" fill="#95969c"/><path d="M-4,352 C2,354 5,362 4,372 C3,380 2,386 -4,388 Z" fill="#9c9da3"/><path d="M10,318 C14,314 22,314 28,316 C33,318 34,324 32,330 C31,335 28,339 22,339 C16,339 12,336 11,331 C9,327 8,322 10,318 Z" fill="#919399"/><path d="M15,302 C20,298 30,299 36,303 C38,307 35,312 30,312 C25,311 20,310 16,308 C14,306 14,304 15,302 Z" fill="#9a9ca2"/><path d="M-4,318 C2,318 7,324 7,332 C7,338 4,344 -4,344 Z" fill="#93959b"/><path d="M39,316 C43,313 48,315 51,320 C52,324 49,327 45,326 C41,325 38,320 39,316 Z" fill="#96989e"/><path d="M-4,383 C2,381 8,386 8,392 C7,397 3,399 -4,398 Z" fill="#919399"/><path d="M56,376 C62,374 70,378 71,384 C70,389 63,391 58,389 C55,386 54,380 56,376 Z" fill="#9b9da3"/><path d="M-4,300 C1,298 4,302 4,306 C3,310 0,311 -4,310 Z" fill="#9a9ca2"/><path d="M20,340 L22,412 M30,345 L25,412 M44,362 L30,410 M8,372 L18,410" stroke="#b7b9bf" stroke-width="0.5" fill="none"/></g>
<circle cx="8.3" cy="360" r="68.7" fill="url(#rim)"/>
<circle cx="8.3" cy="360" r="68.7" fill="none" stroke="#7e8086" stroke-width="0.9"/>
<g transform="translate(204.5,11.1)"><rect x="0" y="1.3" width="152.3" height="11.6" fill="#ecd8e4" opacity="0.12"/><rect x="0" y="0" width="152.3" height="14.2" fill="url(#memb)"/></g>
<g transform="translate(204,56.0)"><rect x="0" y="1.3" width="153" height="11.7" fill="#ecd8e4" opacity="0.12"/><rect x="0" y="0" width="153" height="14.3" fill="url(#memb2)"/></g>
<path d="M212.70000000000002,51 V45 H211.0 L213.8,41 L216.60000000000002,45 H214.9 V51 Z" fill="#6f9fcb"/>
<path d="M255.70000000000002,51.5 V45 H254.0 L256.8,41 L259.6,45 H257.90000000000003 V51.5 Z" fill="#6f9fcb"/>
<path d="M298.0,49 V45 H296.3 L299.1,41 L301.90000000000003,45 H300.20000000000005 V49 Z" fill="#6f9fcb"/>
<text x="213.5" y="37.5" font-size="3.2" fill="#6a7a90" text-anchor="middle">4H+</text>
<text x="256.5" y="37.5" font-size="3.2" fill="#6a7a90" text-anchor="middle">4H+</text>
<text x="298.7" y="37.5" font-size="3.2" fill="#6a7a90" text-anchor="middle">2H+</text>
<text x="335.6" y="37.5" font-size="3.2" fill="#6a7a90" text-anchor="middle">nH+</text>
<rect x="206.6" y="50.8" width="14.8" height="24.2" rx="3.8" fill="#f7d8e0" stroke="#e4b0c0" stroke-width="0.6"/>
<path d="M229,59.5 Q237,57.5 246,59.5 Q249,62 248.5,69 Q248,75 241,75.2 L233,75.2 Q226.5,75 226.3,68 Q226.2,61 229,59.5 Z" fill="#d3d3e9" stroke="#9a9ac6" stroke-width="0.6"/>
<path d="M221.4,54.2 Q232,52.2 241,54.2 L241,56.2 Q232,54.6 221.4,56.6 Z" fill="#fbe4e8"/>
<ellipse cx="244.6" cy="55" rx="3.7" ry="2.3" fill="#eef7fd" stroke="#8eb0cc" stroke-width="0.5"/>
<rect x="251.8" y="51.1" width="11.2" height="22.4" rx="4.6" fill="#d8f1f1" stroke="#9ccad2" stroke-width="0.6"/>
<ellipse cx="276.9" cy="55.8" rx="8.9" ry="5.8" fill="#f5d8f5" stroke="#d6a2d6" stroke-width="0.6"/>
<path d="M293.2,48.7 H303.2 Q305.3,48.7 305.3,51 V61 Q305.8,64.5 308.2,67 Q310.2,70.5 307.5,73 Q304.5,74.5 301.5,72.6 Q299,71.6 296.3,72.6 Q292.8,74.6 289.6,73 Q287.4,70.5 289.2,67 Q291.2,64.5 291.2,61 V51 Q291.2,48.7 293.2,48.7 Z" fill="#e1d9f1" stroke="#b7a7d7" stroke-width="0.6"/>
<path d="M335.5,45.6 Q342.6,45.6 342.6,52.5 V60 Q343,64 345.2,68.5 Q346.6,74 342.5,77 Q339,78.4 335.5,78.3 Q332,78.4 328.5,77 Q324.6,74 326,68.5 Q328.2,64 328.4,60 V52.5 Q328.4,45.6 335.5,45.6 Z" fill="#e1f4d8" stroke="#b2c9a2" stroke-width="0.6"/>
<path d="M214.5,60.5 Q216,54.5 223,54.3 L288,54.6 Q293.5,55.5 294.3,62 L294.5,78.5" fill="none" stroke="#454545" stroke-width="0.55"/>
<path d="M240.5,62 Q243,60 244.5,57.3" fill="none" stroke="#454545" stroke-width="0.5"/>
<path d="M293.2,77.5 L294.5,80 L295.8,77.5 Z" fill="#454545"/>
<circle cx="213.5" cy="63.7" r="2.6" fill="#f8f0c2" stroke="#d8c878" stroke-width="0.5"/>
<text x="213.5" y="64.7" font-size="2.6" fill="#666" text-anchor="middle">2e-</text>
<circle cx="237.5" cy="63.7" r="2.6" fill="#f8f0c2" stroke="#d8c878" stroke-width="0.5"/>
<text x="237.5" y="64.7" font-size="2.6" fill="#666" text-anchor="middle">2e-</text>
<circle cx="294.6" cy="84.2" r="2.6" fill="#f8f0c2" stroke="#d8c878" stroke-width="0.5"/>
<text x="294.6" y="85.2" font-size="2.6" fill="#666" text-anchor="middle">2e-</text>
<path d="M213.5,67 Q213.8,73 216,75.5 Q218,77 219.5,80" fill="none" stroke="#444" stroke-width="0.5"/>
<path d="M236,67 Q233,71 238.5,74 Q242,75.8 243.8,80" fill="none" stroke="#444" stroke-width="0.5"/>
<path d="M327,81 Q331,77.5 334,79 Q336,80 337.8,86" fill="none" stroke="#444" stroke-width="0.5"/>
<text x="204.5" y="82.6" font-size="2.7" fill="#707888">NADH</text>
<text x="215.8" y="82.6" font-size="2.7" fill="#707888">NAD+</text>
<text x="216.5" y="85.2" font-size="2.7" fill="#707888">+ 2H+</text>
<text x="225.5" y="82.6" font-size="2.7" fill="#707888">Succinate</text>
<text x="238.2" y="82.6" font-size="2.7" fill="#707888">Fumarate</text>
<text x="241" y="85.2" font-size="2.7" fill="#707888">+ 2H+</text>
<text x="213.3" y="54.8" font-size="2.7" fill="#707888">I</text>
<text x="230" y="65.5" font-size="2.7" fill="#707888">II</text>
<text x="256.7" y="55" font-size="2.7" fill="#707888">III</text>
<text x="297.5" y="62" font-size="2.7" fill="#707888">IV</text>
<text x="272.5" y="57" font-size="2.7" fill="#707888">Cyt c</text>
<text x="242.2" y="52.3" font-size="2.7" fill="#707888">CoQ</text>
<text x="230" y="71" font-size="2.7" fill="#707888">FAD</text>
<text x="239.5" y="71" font-size="2.7" fill="#707888">FADH2</text>
<text x="330.5" y="61" font-size="2.7" fill="#707888">ATP</text>
<text x="329.5" y="63.8" font-size="2.7" fill="#707888">synthase</text>
<text x="271.5" y="85.2" font-size="3" fill="#7a8090">[ 2H+ + 1/2O2 →</text>
<text x="297.8" y="85.2" font-size="3" fill="#7a8090">→ H2O ]</text>
<path d="M334.4,79 V82 H332.6 L335.5,86.2 L338.4,82 H336.6 V79 Z" fill="#6f9fcb"/>
<rect x="322.4" y="88" width="12.2" height="5.6" rx="2.8" fill="#eef7ee" stroke="#a2bca8" stroke-width="0.5"/>
<text x="328.5" y="91.7" font-size="2.7" fill="#666" text-anchor="middle">ADP</text>
<rect x="310.9" y="5.6" width="38.5" height="24.5" fill="#b4d5f3" stroke="#b08070" stroke-width="0.9"/>
<g transform="translate(313,9.6) scale(1.0,1.0)"><path d="M3,3.6 C7,0.3 27,-0.2 31.5,2.6 C35.2,5.2 35.2,10.6 31.2,13.2 C27.5,15.3 22.5,13.4 17.3,14.4 C12,15.6 6.2,15.6 2.9,13 C-0.2,10.4 0.2,6 3,3.6 Z" fill="#6d93d2" stroke="#4a6fb0" stroke-width="0.5"/><path d="M3,3.6 C7,0.3 27,-0.2 31.5,2.6 C33.6,4.1 34.5,6.5 34.5,8.6 L0.6,8.6 C0.8,6.8 1.6,4.9 3,3.6 Z" fill="#3d6bb8"/><path d="M4.00,5.0 l0.9,3.0 M6.05,5.0 l0.9,3.0 M8.10,5.0 l0.9,3.0 M10.15,5.0 l0.9,3.0 M12.20,3.2 l0.9,4.6 M14.25,3.2 l0.9,4.6 M16.30,3.2 l0.9,4.6 M18.35,3.2 l0.9,4.6 M20.40,3.2 l0.9,4.6 M22.45,3.2 l0.9,4.6 M24.50,3.2 l0.9,4.6 M26.55,3.2 l0.9,4.6 M28.60,3.2 l0.9,4.6 M30.65,5.0 l0.9,3.0 M32.70,5.0 l0.9,3.0" stroke="#ffffff" stroke-width="1.1" fill="none" stroke-linecap="round"/><path d="M3,12 C10,13.6 22,11.8 31,11" stroke="#82a6de" stroke-width="1.2" fill="none"/></g>
<rect x="324.3" y="7" width="10.5" height="6.4" fill="none" stroke="#454545" stroke-width="0.7"/>
<text x="216.8" y="32.8" font-size="12" fill="#222" font-weight="normal" text-anchor="start" >MMP</text>
<path d="M251.5,21.1 L257.3,27.6 L254.14999999999998,27.6 L254.14999999999998,35.7 L248.85,35.7 L248.85,27.6 L245.7,27.6 Z" fill="#ff0000"/>
<rect x="336.6" y="85.8" width="26.3" height="13.8" rx="6.9" fill="#6aa890" stroke="#4a8870" stroke-width="0.6"/>
<text x="338.3" y="98.2" font-size="12.5" fill="#222" font-weight="normal" text-anchor="start" >ATP</text>
<path d="M368.75,84.1 L374.3,90.6 L371.4,90.6 L371.4,98.3 L366.09999999999997,98.3 L366.09999999999997,90.6 L363.2,90.6 Z" fill="#ff0000"/>
</svg></body></html>
